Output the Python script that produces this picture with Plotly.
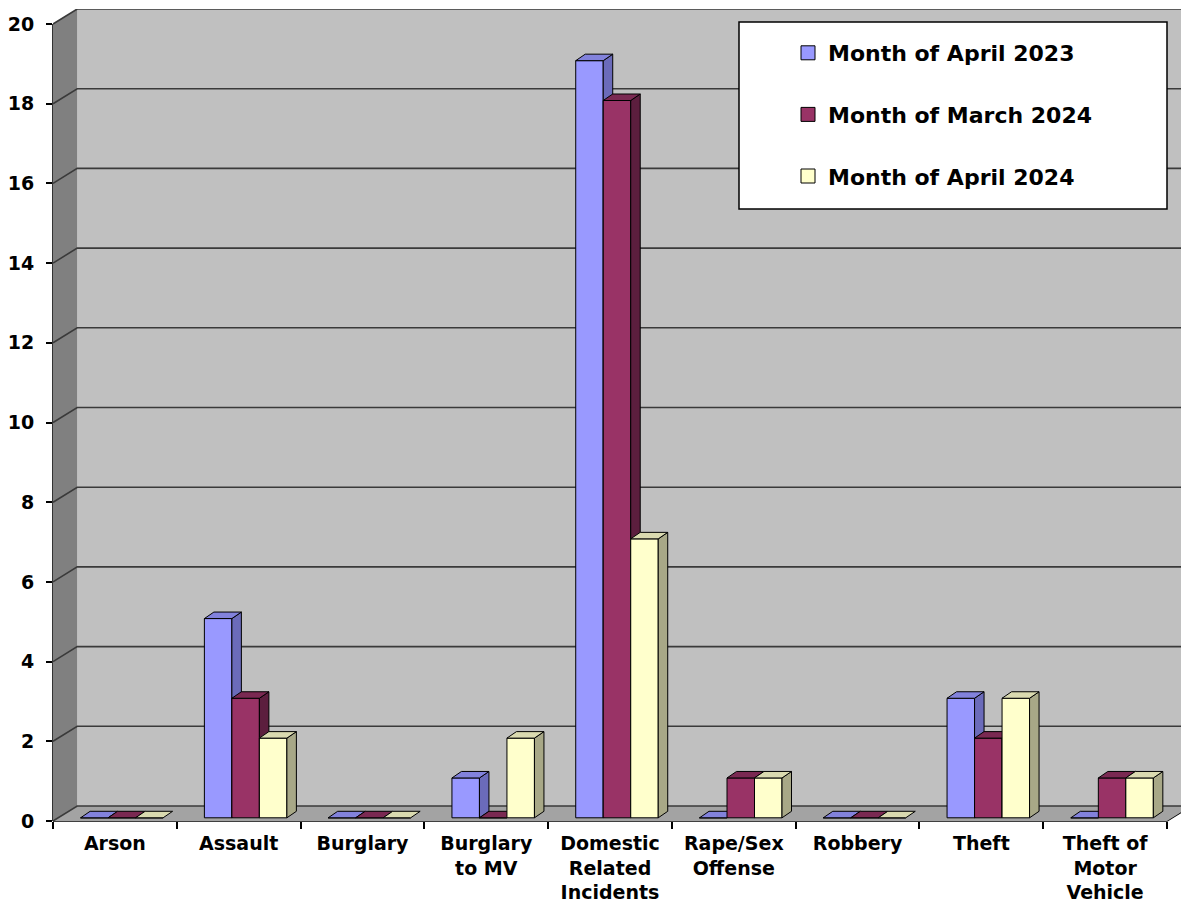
import plotly.graph_objects as go

# ---------------- data ----------------
categories = ["Arson", "Assault", "Burglary", "Burglary<br>to MV",
              "Domestic<br>Related<br>Incidents", "Rape/Sex<br>Offense",
              "Robbery", "Theft", "Theft of<br>Motor<br>Vehicle"]
series_names = ["Month of April 2023", "Month of March 2024", "Month of April 2024"]
april_2023 = [0, 5, 0, 1, 19, 0, 0, 3, 0]
march_2024 = [0, 3, 0, 0, 18, 1, 0, 2, 1]
april_2024 = [0, 2, 0, 2, 7, 1, 0, 3, 1]
y_ticks = [0, 2, 4, 6, 8, 10, 12, 14, 16, 18, 20]

series_values = [april_2023, march_2024, april_2024]

# ---------------- style ----------------
front_colors = ["#9999FF", "#993366", "#FFFFCC"]
side_colors = ["#6B6BBA", "#5C1E3E", "#A8A887"]
top_colors = ["#8282DC", "#7A2952", "#DADAB0"]
FONT = "DejaVu Sans"

PAGE_OFF = 8                      # default body margin of the html page
W, H = 1189 - PAGE_OFF, 904 - PAGE_OFF
ML, MR, MT, MB = 53 - PAGE_OFF, 0, 9 - PAGE_OFF, 83
PW, PH = W - ML - MR, H - MT - MB
UX = 123.78          # px per category unit
UY = 39.85           # px per value unit
X0 = -0.5
XR = X0 + PW / UX
YTOP = PH / UY
DXD = 24.2 / UX      # wall depth (x)
DYD = YTOP - 20      # wall depth (y)
BW = 27.5 / UX       # bar width
OFF0 = -0.277        # left edge of first bar relative to category center
BASE = 0.08          # bars sit slightly back on the floor
BDX = 9.5 / UX       # bar depth
BDY = 6.5 / UY

n = len(categories)
xs = list(range(n))

fig = go.Figure()

# ---- bars, one overlay layer per series so depth order is right ----
for j, (name, vals) in enumerate(zip(series_names, series_values)):
    xa = "x" if j == 0 else f"x{j+1}"
    ya = "y" if j == 0 else f"y{j+1}"
    fig.add_trace(go.Bar(
        x=xs, y=vals, base=[BASE] * n, width=BW, offset=OFF0 + j * BW,
        marker=dict(color=front_colors[j], line=dict(color="black", width=1)),
        showlegend=False, xaxis=xa, yaxis=ya, hoverinfo="skip"))
    sx, sy, tx, ty = [], [], [], []
    for i, v in enumerate(vals):
        x0 = i + OFF0 + j * BW
        x1 = x0 + BW
        b = BASE
        t = BASE + v
        if v > 0:
            sx += [x1, x1 + BDX, x1 + BDX, x1, x1, None]
            sy += [b, b + BDY, t + BDY, t, b, None]
        tx += [x0, x1, x1 + BDX, x0 + BDX, x0, None]
        ty += [t, t, t + BDY, t + BDY, t, None]
    fig.add_trace(go.Scatter(x=sx, y=sy, mode="lines", fill="toself",
                             fillcolor=side_colors[j],
                             line=dict(color="black", width=1),
                             showlegend=False, xaxis=xa, yaxis=ya, hoverinfo="skip"))
    fig.add_trace(go.Scatter(x=tx, y=ty, mode="lines", fill="toself",
                             fillcolor=top_colors[j],
                             line=dict(color="black", width=1),
                             showlegend=False, xaxis=xa, yaxis=ya, hoverinfo="skip"))

# legend entries
for j, name in enumerate(series_names):
    fig.add_trace(go.Scatter(
        x=[None], y=[None], mode="markers", name=name, legendgroup=str(j),
        marker=dict(symbol="square", size=14, color=front_colors[j],
                    line=dict(color="black", width=1))))

# ---- walls, floor, gridlines ----
shapes = []
shapes.append(dict(type="rect", xref="x", yref="y", x0=X0 + DXD, x1=XR + 1,
                   y0=DYD, y1=20 + DYD, fillcolor="#C0C0C0",
                   line=dict(width=0), layer="below"))
shapes.append(dict(type="path", xref="x", yref="y",
                   path=f"M {X0},0 L {X0+DXD},{DYD} L {X0+DXD},{20+DYD} L {X0},20 Z",
                   fillcolor="#808080", line=dict(width=0), layer="below"))
shapes.append(dict(type="path", xref="x", yref="y",
                   path=f"M {X0},0 L {n-0.5},0 L {n-0.5+DXD},{DYD} L {X0+DXD},{DYD} Z",
                   fillcolor="#A3A3A3", line=dict(width=0), layer="below"))
for v in y_ticks:
    shapes.append(dict(type="path", xref="x", yref="y",
                       path=f"M {X0},{v} L {X0+DXD},{v+DYD} L {XR+1},{v+DYD}",
                       line=dict(color="#3A3A3A", width=1.6), layer="below"))
# front axis lines
shapes.append(dict(type="line", xref="paper", yref="y", x0=0, x1=0, y0=0, y1=20,
                   line=dict(color="black", width=1.6), layer="below"))
shapes.append(dict(type="path", xref="x", yref="paper",
                   path=f"M {X0},0 L {n-0.5},0 L {n-0.5+DXD},{DYD/YTOP}",
                   line=dict(color="black", width=1.6), layer="below"))


def px2paper_x(px):
    """window pixel -> paper fraction"""
    return (px - PAGE_OFF - ML) / PW


def px2paper_y(py):
    return (H - MB - (py - PAGE_OFF)) / PH


# legend box
shapes.append(dict(type="rect", xref="paper", yref="paper",
                   x0=px2paper_x(739), x1=px2paper_x(1167),
                   y0=px2paper_y(209), y1=px2paper_y(22),
                   fillcolor="white", line=dict(color="black", width=1.5),
                   layer="above"))

fig.update_layout(
    width=W, height=H,
    margin=dict(l=ML, r=MR, t=MT, b=MB, autoexpand=False),
    paper_bgcolor="white", plot_bgcolor="white",
    shapes=shapes,
    showlegend=True,
    legend=dict(x=px2paper_x(788), y=px2paper_y(32), xanchor="left", yanchor="top",
                bgcolor="rgba(0,0,0,0)", borderwidth=0, traceorder="grouped",
                tracegroupgap=30,
                font=dict(family=FONT, size=22, color="black", weight="bold")),
    xaxis=dict(range=[X0, XR], tickvals=xs, ticktext=categories, ticks="",
               showgrid=False, zeroline=False, showline=False, automargin=False,
               tickfont=dict(family=FONT, size=19, color="black", weight="bold"),
               ticklabelstandoff=9,
               minor=dict(tickvals=[i - 0.5 for i in range(n + 1)], ticks="outside",
                          ticklen=7, tickcolor="black", tickwidth=1.6, showgrid=False),
               fixedrange=True),
    yaxis=dict(range=[0, YTOP], tickvals=y_ticks, ticks="outside", ticklen=6,
               tickcolor="black", tickwidth=1.6, showgrid=False, zeroline=False,
               showline=False, ticklabelstandoff=8, automargin=False,
               tickfont=dict(family=FONT, size=19, color="black", weight="bold"),
               fixedrange=True),
    xaxis2=dict(overlaying="x", matches="x", anchor="y2", visible=False),
    yaxis2=dict(overlaying="y", matches="y", anchor="x2", visible=False),
    xaxis3=dict(overlaying="x", matches="x", anchor="y3", visible=False),
    yaxis3=dict(overlaying="y", matches="y", anchor="x3", visible=False),
)

fig.write_html("out.html")
